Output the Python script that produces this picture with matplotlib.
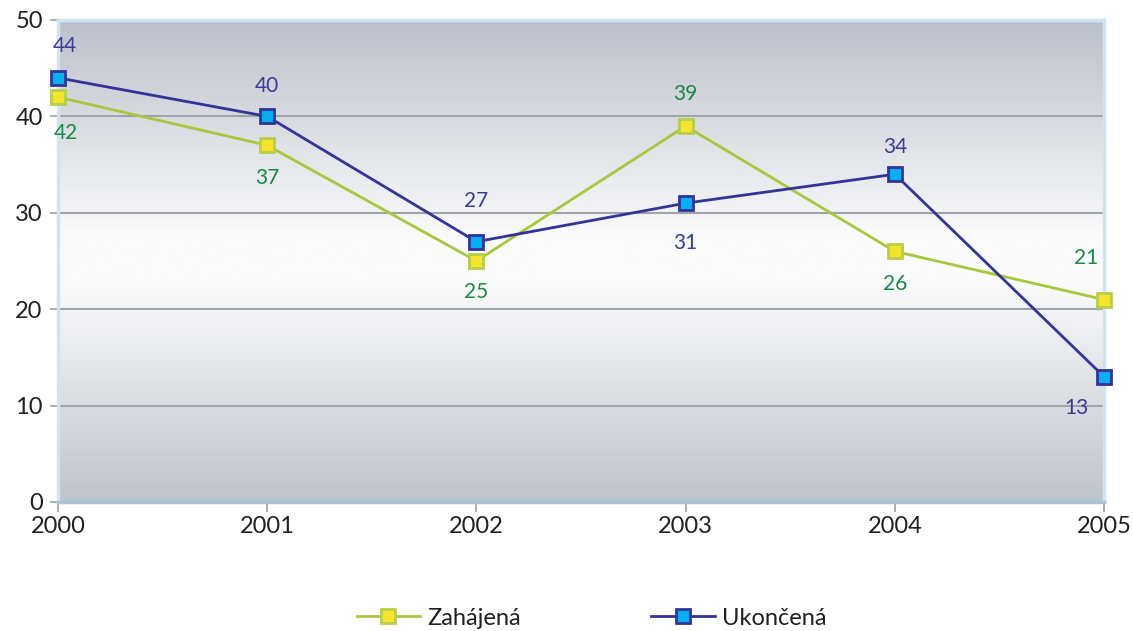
import numpy as np
import matplotlib
matplotlib.use("Agg")
import matplotlib.pyplot as plt
from matplotlib.colors import LinearSegmentedColormap

years = ["2000", "2001", "2002", "2003", "2004", "2005"]
zahajena = [42, 37, 25, 39, 26, 21]
ukoncena = [44, 40, 27, 31, 34, 13]
series_names = ["Zahájená", "Ukončená"]
yticks = [0, 10, 20, 30, 40, 50]

# label offsets in pixels (dx, dy), dy positive = up
zah_off = [(8, -36), (0, -33), (0, -31), (0, 32), (0, -33), (-18, 42)]
uko_off = [(7, 32), (0, 30), (0, 41), (0, -40), (0, 27), (-28, -31)]

plt.rcParams['font.family'] = ['Lato', 'DejaVu Sans']

fig = plt.figure(figsize=(11.33, 6.31), dpi=100)
ax = fig.add_axes([58/1133, 1-502/631, (1104-58)/1133, (502-20)/631])

x = np.arange(len(years))
ax.set_xlim(0, len(years)-1)
ax.set_ylim(0, 50)

cmap = LinearSegmentedColormap.from_list("bg", [
    (0.0, "#bfc3cb"), (0.45, "#fbfbfc"), (0.55, "#fbfbfc"), (1.0, "#bcc0c9")])
grad = np.linspace(0, 1, 256).reshape(-1, 1)
ax.imshow(grad, aspect='auto', cmap=cmap, extent=[0, 5, 0, 50], origin='lower', zorder=0)

for yv in yticks[1:-1]:
    ax.axhline(yv, color="#a0a4a8", lw=1.5, zorder=1)

green_line = "#a9c73d"
green_face = "#f7e42a"
green_edge = "#b5cf4a"
blue_line = "#33339a"
blue_face = "#00b0f0"
blue_edge = "#33339a"
green_txt = "#168a48"
blue_txt = "#3a3a9c"

ax.plot(x, zahajena, color=green_line, lw=2, marker='s', ms=10,
        mfc=green_face, mec=green_edge, mew=2, zorder=3, label=series_names[0], clip_on=False)
ax.plot(x, ukoncena, color=blue_line, lw=2, marker='s', ms=10,
        mfc=blue_face, mec=blue_edge, mew=2, zorder=4, label=series_names[1], clip_on=False)

for i, v in enumerate(zahajena):
    dx, dy = zah_off[i]
    ax.annotate(str(v), (x[i], v), xytext=(dx*0.72, dy*0.72), textcoords='offset points',
                ha='center', va='center', color=green_txt, fontsize=15, zorder=5)
for i, v in enumerate(ukoncena):
    dx, dy = uko_off[i]
    ax.annotate(str(v), (x[i], v), xytext=(dx*0.72, dy*0.72), textcoords='offset points',
                ha='center', va='center', color=blue_txt, fontsize=15, zorder=5)

ax.set_xticks(x)
ax.set_xticklabels(years, fontsize=17, color="#231f20")
ax.set_yticks(yticks)
ax.set_yticklabels([str(t) for t in yticks], fontsize=17, color="#231f20")
ax.tick_params(axis='x', length=7, color="#9a9ea2", width=1.2, pad=3)
ax.tick_params(axis='y', length=6, color="#9a9ea2", width=1.2, pad=5)

for s in ax.spines.values():
    s.set_color("#cfe6f0")
    s.set_linewidth(2.5)
ax.spines['bottom'].set_color("#a7c4d0")

leg = fig.legend(loc='lower center', bbox_to_anchor=(0.522, -0.03), ncol=2, frameon=False,
                 fontsize=17, columnspacing=5.5, handlelength=2.7, handletextpad=0.3)
for t in leg.get_texts():
    t.set_color("#231f20")

fig.savefig("out.png", dpi=100)
